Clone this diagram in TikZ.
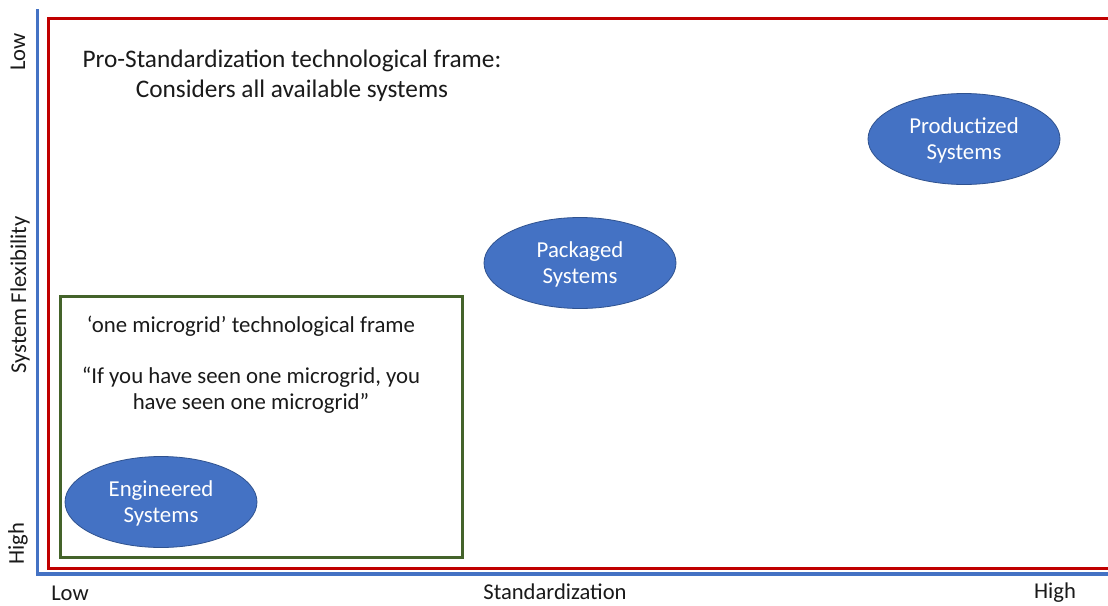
\documentclass[tikz,border=0pt]{standalone}
\usepackage{fontspec}
\setmainfont{Carlito}
\usetikzlibrary{shapes.geometric}
\definecolor{axisblue}{HTML}{4472C4}
\definecolor{framered}{HTML}{C00000}
\definecolor{framegreen}{HTML}{44632A}
\definecolor{ellfill}{HTML}{4472C4}
\definecolor{elldraw}{HTML}{2F528F}
\definecolor{txt}{HTML}{1A1A1A}
\tikzset{
  sys/.style={ellipse, fill=ellfill, draw=elldraw, line width=0.8pt, minimum width=192pt, minimum height=91pt, inner sep=0pt, align=center, text=white, font=\fontsize{22.8}{26.5}\selectfont},
  systext/.style={inner sep=0pt, align=center, text=white, font=\fontsize{22.8}{26.5}\selectfont},
  lbl/.style={text=txt, inner sep=0pt, align=center, font=\fontsize{22.8}{26.5}\selectfont},
  ax/.style={text=txt, inner sep=0pt, font=\fontsize{22.6}{26}\selectfont}
}
\begin{document}
\begin{tikzpicture}[x=1pt,y=-1pt]
\clip (0,0) rectangle (1108,605);
\fill[white] (0,0) rectangle (1108,605);
% axes
\draw[axisblue, line width=3.5pt, line join=miter] (37.5,9) -- (37.5,574) -- (1112,574);
% frames
\draw[framered, line width=3pt] (48,18) rectangle (1116,568);
\draw[framegreen, line width=3pt] (60,296) rectangle (462,557);
% texts
\node[lbl, font=\fontsize{25.3}{30}\selectfont] (pro) at (292,75.5) {Pro-Standardization technological frame:\\Considers all available systems};
\node[lbl] (one) at (251,326) {‘one microgrid’ technological frame};
\node[lbl] (quote) at (251,390) {“If you have seen one microgrid, you\\have seen one microgrid”};
% ellipses
\node[sys] (prod) at (964,139) {};
\node[systext] (prodt) at (964,140.5) {Productized\\Systems};
\node[sys] (pack) at (580,263) {};
\node[systext] (packt) at (580,264.5) {Packaged\\Systems};
\node[sys] (eng) at (161,502) {};
\node[systext] (engt) at (161,503.5) {Engineered\\Systems};
% axis labels
\node[ax, rotate=90] (ylow) at (18,52) {Low};
\node[ax, rotate=90] (yname) at (20,295) {System Flexibility};
\node[ax, rotate=90] (yhigh) at (18,544) {High};
\node[ax] (xlow) at (70,593) {Low};
\node[ax] (xname) at (555,592) {Standardization};
\node[ax] (xhigh) at (1055,593) {High};
\end{tikzpicture}
\end{document}
